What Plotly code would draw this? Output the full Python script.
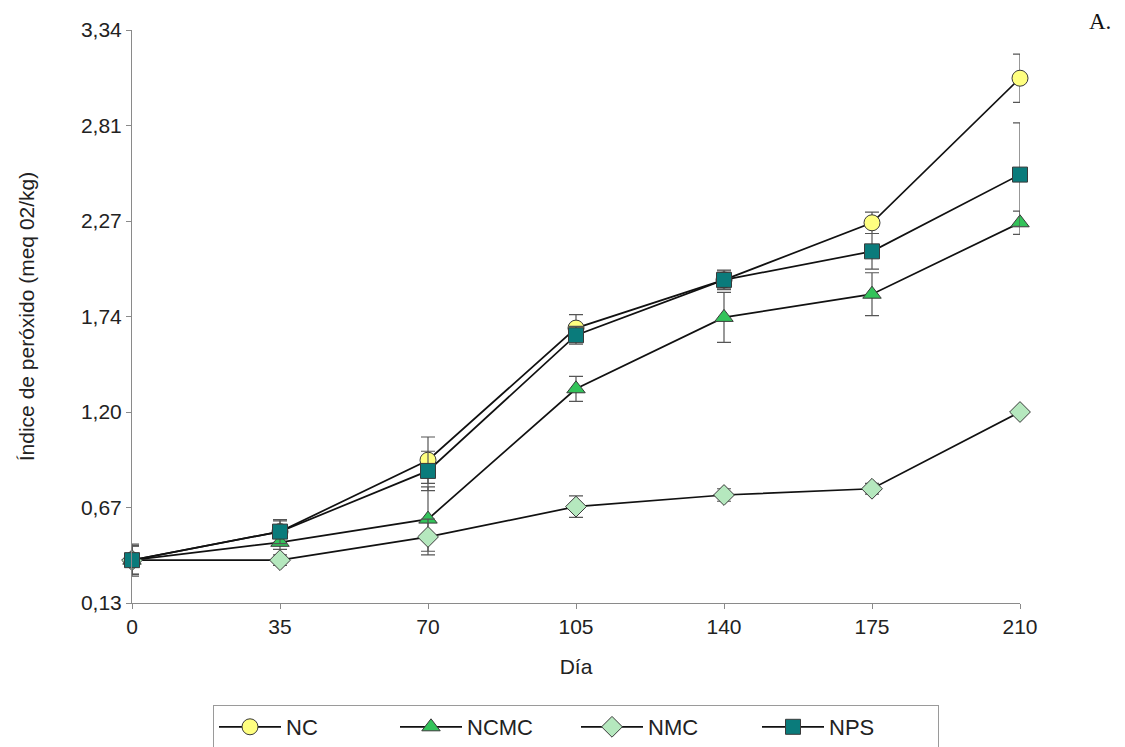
import plotly.graph_objects as go

dias = [0, 35, 70, 105, 140, 175, 210]

nc = [0.37, 0.53, 0.93, 1.67, 1.94, 2.26, 3.07]
nc_err = [0.08, 0.06, 0.13, 0.075, 0.05, 0.06, 0.135]

ncmc = [0.37, 0.47, 0.60, 1.33, 1.73, 1.86, 2.26]
ncmc_err = [0.08, 0.04, 0.18, 0.07, 0.14, 0.12, 0.065]

nmc = [0.37, 0.37, 0.50, 0.67, 0.735, 0.77, 1.20]
nmc_err = [0.08, 0.03, 0.10, 0.06, 0.035, 0.03, 0.0]

nps = [0.37, 0.53, 0.87, 1.63, 1.94, 2.10, 2.53]
nps_err = [0.09, 0.067, 0.11, 0.05, 0.055, 0.10, 0.29]

y_ticks = [0.13, 0.665, 1.2, 1.735, 2.27, 2.805, 3.34]
y_labels = ["0,13", "0,67", "1,20", "1,74", "2,27", "2,81", "3,34"]

series = [
    ("NC", nc, nc_err, "circle", "#FFFF80", 16),
    ("NCMC", ncmc, ncmc_err, "triangle-up", "#33C35A", 16),
    ("NMC", nmc, nmc_err, "diamond", "#B5E8BE", 16),
    ("NPS", nps, nps_err, "square", "#0A7B7B", 15),
]

fig = go.Figure()
for name, vals, errs, sym, col, sz in series:
    fig.add_trace(go.Scatter(
        x=dias, y=vals, name=name, mode="lines+markers",
        line=dict(color="#111111", width=1.7),
        marker=dict(symbol=sym, size=sz, color=col,
                    line=dict(color="#3a3a3a", width=1)),
        error_y=dict(type="data", array=errs, visible=True,
                     color="#555555", thickness=1.2, width=7),
        cliponaxis=False,
    ))

font_main = "Liberation Sans, Arial, sans-serif"

fig.update_layout(
    width=1125, height=747,
    margin=dict(l=132, r=105, t=30, b=144, autoexpand=False),
    plot_bgcolor="white", paper_bgcolor="white",
    font=dict(family=font_main, color="#222222", size=21),
    xaxis=dict(
        range=[0, 210], tickvals=dias, ticktext=[str(d) for d in dias],
        showgrid=False, zeroline=False, showline=True, linecolor="#8a8a8a",
        linewidth=1, ticks="outside", ticklen=5, tickcolor="#8a8a8a",
        tickfont=dict(size=21),
        title=dict(text="Día", font=dict(size=21), standoff=22),
    ),
    yaxis=dict(
        range=[0.13, 3.34], tickvals=y_ticks, ticktext=y_labels,
        showgrid=False, zeroline=False, showline=True, linecolor="#8a8a8a",
        linewidth=1, ticks="outside", ticklen=5, tickcolor="#8a8a8a",
        tickfont=dict(size=21),
        title=dict(text="Índice de peróxido (meq 02/kg)", font=dict(size=21),
                   standoff=40),
    ),
    legend=dict(
        orientation="h", x=(213 - 132) / 888, xanchor="left",
        y=(603 - 705) / 573, yanchor="top",
        bordercolor="#9a9a9a", borderwidth=1, bgcolor="white",
        font=dict(size=22), entrywidth=104, itemwidth=62,
    ),
    annotations=[dict(
        text="A.", x=(1100 - 132) / 888, y=(603 - 22) / 573,
        xref="paper", yref="paper", xanchor="center", yanchor="middle",
        showarrow=False,
        font=dict(family="Liberation Serif, Times New Roman, serif", size=23, color="#111111"),
    )],
)

fig.write_html("out.html")
